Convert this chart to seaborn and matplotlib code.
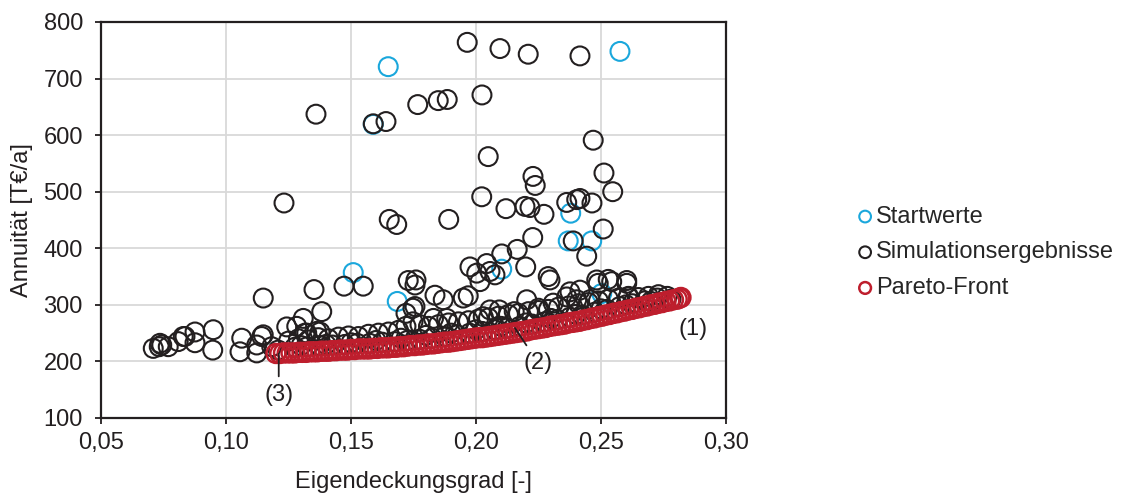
import matplotlib
matplotlib.use("Agg")
import matplotlib.pyplot as plt
import seaborn as sns
from matplotlib.ticker import FuncFormatter

# Startwerte (blue)
start_x = [0.1649, 0.2576, 0.1509, 0.1685, 0.2103, 0.2379, 0.2369, 0.2463, 0.1589, 0.2503]
start_y = [721, 748, 357, 306, 363, 462, 413, 413, 619, 320]

# Simulationsergebnisse (black)
sim_x = [
    0.1360, 0.1767, 0.1849, 0.1885, 0.1589, 0.1640, 0.1232, 0.1653, 0.1683, 0.1965,
    0.2096, 0.2209, 0.2416, 0.2024, 0.2469, 0.2049, 0.2228, 0.2237, 0.2512, 0.2547,
    0.2023, 0.2120, 0.2196, 0.2216, 0.2272, 0.2363, 0.2403, 0.2416, 0.2464, 0.1891,
    0.2509, 0.2227, 0.2389, 0.2443, 0.2103, 0.2165, 0.2199, 0.2056, 0.2289, 0.2483,
    0.2529, 0.2603,
    0.1472, 0.1549, 0.1352, 0.1729, 0.1760, 0.1756, 0.1836, 0.1869, 0.1976, 0.2003,
    0.2016, 0.1969, 0.1383, 0.1309, 0.1283, 0.1363, 0.1316, 0.1756, 0.1149, 0.2043,
    0.2076, 0.2296, 0.2203, 0.2376, 0.2416, 0.2489, 0.2543, 0.2603, 0.2403, 0.2363,
    0.2456, 0.2609, 0.2309, 0.2250, 0.2093, 0.2153, 0.1949, 0.2056,
    0.0949, 0.0876, 0.0829, 0.1243, 0.1063, 0.1143, 0.0736, 0.0733, 0.0709, 0.0743,
    0.0769, 0.0809, 0.0836, 0.0876, 0.0947, 0.1056, 0.1123, 0.1123, 0.1149, 0.1209,
    0.1183, 0.1323, 0.1376,
    0.1250, 0.1290, 0.1330, 0.1370, 0.1410, 0.1450, 0.1490, 0.1530, 0.1570, 0.1610,
    0.1650, 0.1690, 0.1720, 0.1748, 0.1776, 0.1810, 0.1850, 0.1890, 0.1930, 0.1970,
    0.2010, 0.2050, 0.2090, 0.2130, 0.2170, 0.2210, 0.2250, 0.2290, 0.2330, 0.2370,
    0.2410, 0.2450, 0.2490, 0.2530, 0.2570, 0.2610, 0.2650, 0.2690, 0.2730,
    0.1748, 0.1720, 0.1830, 0.1883, 0.2029,
    0.1300, 0.1400, 0.1500, 0.1600, 0.1700, 0.1800, 0.1900, 0.2000, 0.2100, 0.2200,
    0.2300, 0.2400, 0.2500, 0.2600, 0.2700, 0.2780,
    0.1275, 0.1325, 0.1375, 0.1425, 0.1475, 0.1525, 0.1575, 0.1625, 0.1675, 0.1725,
    0.1775, 0.1825, 0.1875, 0.1925, 0.1975, 0.2025, 0.2075, 0.2125, 0.2175, 0.2225,
    0.2275, 0.2325, 0.2375, 0.2425, 0.2475, 0.2525, 0.2575, 0.2625, 0.2675, 0.2725,
    0.2765,
]
sim_y = [
    637, 654, 661, 663, 620, 624, 480, 451, 442, 764,
    753, 743, 740, 671, 591, 562, 527, 511, 533, 500,
    491, 470, 474, 472, 460, 481, 486, 488, 480, 451,
    434, 419, 413, 386, 390, 398, 367, 359, 350, 344,
    345, 343,
    333, 333, 327, 343, 344, 335, 317, 309, 367, 356,
    341, 316, 288, 276, 262, 253, 250, 297, 312, 373,
    353, 344, 309, 323, 326, 338, 341, 338, 309, 314,
    309, 314, 303, 294, 291, 288, 312, 291,
    256, 252, 244, 261, 241, 244, 232, 226, 223, 229,
    226, 235, 244, 233, 220, 217, 229, 215, 247, 220,
    226, 250, 252,
    236, 240, 238, 242, 240, 243, 245, 244, 248, 250,
    252, 255, 262, 270, 265, 262, 265, 268, 270, 272,
    275, 277, 280, 283, 285, 288, 290, 292, 296, 298,
    302, 304, 307, 310, 312, 315, 313, 315, 318,
    294, 285, 276, 276, 279,
    228, 230, 233, 237, 241, 246, 250, 256, 262, 268,
    276, 283, 293, 300, 306, 310,
    225, 226, 228, 229, 230, 232, 232, 234, 235, 237,
    239, 241, 244, 247, 250, 253, 256, 259, 262, 266,
    270, 274, 278, 282, 287, 292, 297, 302, 307, 312,
    315,
]

# Pareto-Front (red)
pareto_x = [
    0.1200, 0.1215, 0.1230, 0.1245, 0.1260, 0.1275, 0.1290, 0.1305, 0.1320, 0.1335,
    0.1350, 0.1365, 0.1380, 0.1395, 0.1410, 0.1425, 0.1440, 0.1455, 0.1470, 0.1485,
    0.1500, 0.1515, 0.1530, 0.1545, 0.1560, 0.1575, 0.1590, 0.1605, 0.1620, 0.1635,
    0.1650, 0.1665, 0.1680, 0.1695, 0.1710, 0.1725, 0.1740, 0.1755, 0.1770, 0.1785,
    0.1800, 0.1815, 0.1830, 0.1845, 0.1860, 0.1875, 0.1890, 0.1905, 0.1920, 0.1935,
    0.1950, 0.1965, 0.1980, 0.1995, 0.2010, 0.2025, 0.2040, 0.2055, 0.2070, 0.2085,
    0.2100, 0.2115, 0.2130, 0.2145, 0.2160, 0.2175, 0.2190, 0.2205, 0.2220, 0.2235,
    0.2250, 0.2265, 0.2280, 0.2295, 0.2310, 0.2325, 0.2340, 0.2355, 0.2370, 0.2385,
    0.2400, 0.2415, 0.2430, 0.2445, 0.2460, 0.2475, 0.2490, 0.2505, 0.2520, 0.2535,
    0.2550, 0.2565, 0.2580, 0.2595, 0.2610, 0.2625, 0.2640, 0.2655, 0.2670, 0.2685,
    0.2700, 0.2715, 0.2730, 0.2745, 0.2760, 0.2775, 0.2790, 0.2805, 0.2815, 0.2820,
]
pareto_y = [
    214, 214, 215, 215, 215, 215, 216, 216, 216, 217,
    217, 217, 218, 218, 218, 219, 219, 220, 220, 220,
    221, 221, 222, 222, 222, 222, 223, 223, 224, 224,
    224, 225, 225, 226, 226, 227, 228, 228, 229, 229,
    230, 231, 231, 232, 233, 234, 234, 235, 236, 237,
    238, 239, 240, 241, 242, 242, 243, 244, 245, 246,
    247, 248, 249, 250, 251, 252, 253, 254, 256, 257,
    258, 259, 260, 262, 263, 264, 265, 266, 268, 269,
    270, 271, 273, 274, 276, 277, 279, 280, 282, 283,
    285, 286, 288, 289, 291, 292, 294, 295, 297, 298,
    300, 301, 303, 304, 306, 307, 309, 310, 312, 313,
]

x_ticks = [0.05, 0.10, 0.15, 0.20, 0.25, 0.30]
y_ticks = [100, 200, 300, 400, 500, 600, 700, 800]

sns.set_theme(style="whitegrid")
plt.rcParams['font.family'] = ['Liberation Sans', 'DejaVu Sans']
fs = 17

c_blue = "#1aa7dc"
c_black = "#231f20"
c_red = "#be1e2d"

fig = plt.figure(figsize=(11.21, 4.95), dpi=100)
ax = fig.add_axes([0.0901, 0.1556, 0.5575, 0.8])

for xs, ys, col, lab, lw in [(start_x, start_y, c_blue, "Startwerte", 1.5),
                             (sim_x, sim_y, c_black, "Simulationsergebnisse", 1.5),
                             (pareto_x, pareto_y, c_red, "Pareto-Front", 1.8)]:
    sns.scatterplot(x=xs, y=ys, s=185, marker="o", linewidth=lw,
                    facecolor="none", edgecolor=col, label=lab, ax=ax)

ax.set_xlim(0.05, 0.30)
ax.set_ylim(100, 800)
ax.set_xticks(x_ticks)
ax.set_yticks(y_ticks)
ax.xaxis.set_major_formatter(FuncFormatter(lambda v, p: f"{v:.2f}".replace(".", ",")))
ax.grid(True, color="#d9d9d9", linewidth=1.3)
ax.set_axisbelow(True)
for s in ax.spines.values():
    s.set_color(c_black)
    s.set_linewidth(1.6)
ax.tick_params(axis="both", which="major", length=4, width=1.3, color=c_black,
               labelsize=fs, labelcolor=c_black, direction="out", left=True, bottom=True)
ax.tick_params(axis="y", pad=9)
ax.tick_params(axis="x", pad=6)

ax.set_xlabel("Eigendeckungsgrad [-]", fontsize=fs, color=c_black, va="center")
ax.set_ylabel("Annuität [T€/a]", fontsize=fs, color=c_black, va="center")
ax.xaxis.set_label_coords(0.5, -0.162)
ax.yaxis.set_label_coords(-0.126, 0.5)

# annotations (1)-(3) with short leader lines
lineprops = dict(arrowstyle="-", color=c_black, lw=1.3, shrinkA=3, shrinkB=0)
ax.annotate("(2)", xy=(0.2156, 259), xytext=(0.2249, 197), ha="center", va="center",
            fontsize=fs, color=c_black, arrowprops=lineprops, zorder=5)
ax.annotate("(3)", xy=(0.1211, 214), xytext=(0.1211, 141), ha="center", va="center",
            fontsize=fs, color=c_black, arrowprops=lineprops, zorder=5)
ax.text(0.2867, 258, "(1)", ha="center", va="center", fontsize=fs, color=c_black)

handles, labels = ax.get_legend_handles_labels()
ax.get_legend().remove()
fig.legend(handles, labels, loc="center left", bbox_to_anchor=(0.757, 0.49),
           frameon=False, fontsize=fs, markerscale=0.62, handlelength=0.6,
           handletextpad=0.15, labelspacing=0.58, borderaxespad=0)

fig.savefig("out.png", dpi=100)
